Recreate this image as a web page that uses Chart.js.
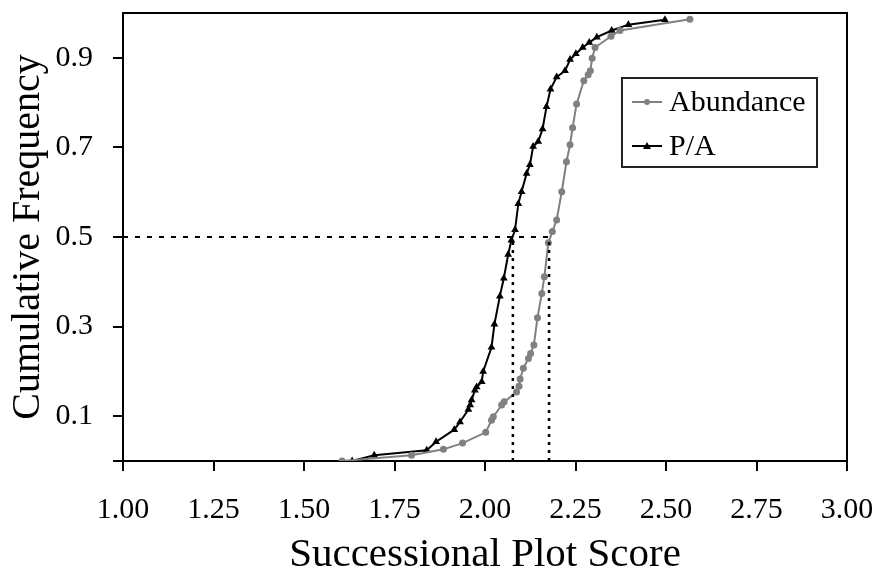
<!DOCTYPE html>
<html>
<head>
<meta charset="utf-8">
<script src="https://cdn.jsdelivr.net/npm/chart.js@4.4.1/dist/chart.umd.min.js"></script>
<style>
html,body{margin:0;padding:0;background:#fff;}
#wrap{width:877px;height:573px;}
</style>
</head>
<body>
<div id="wrap"><canvas id="c" width="877" height="573"></canvas></div>
<script>
// Data
const abundanceX = [1.605,1.797,1.885,1.938,2.002,2.018,2.023,2.046,2.053,2.087,2.094,2.097,2.106,2.120,2.126,2.135,2.145,2.157,2.164,2.175,2.186,2.198,2.212,2.225,2.235,2.242,2.253,2.273,2.285,2.291,2.296,2.304,2.348,2.373,2.566];
const abundanceY = [0,0.013,0.026,0.040,0.064,0.091,0.099,0.125,0.132,0.154,0.167,0.183,0.207,0.229,0.240,0.259,0.320,0.374,0.411,0.487,0.512,0.538,0.601,0.668,0.706,0.744,0.797,0.849,0.862,0.871,0.899,0.923,0.948,0.961,0.986];
const paX = [1.633,1.694,1.839,1.865,1.915,1.931,1.954,1.959,1.963,1.972,1.977,1.991,1.995,2.018,2.026,2.041,2.052,2.064,2.073,2.083,2.092,2.101,2.115,2.124,2.133,2.147,2.159,2.170,2.181,2.198,2.221,2.235,2.251,2.270,2.288,2.309,2.350,2.396,2.497];
const paY = [0,0.013,0.024,0.043,0.070,0.087,0.115,0.125,0.136,0.158,0.165,0.177,0.200,0.254,0.305,0.368,0.408,0.461,0.493,0.516,0.574,0.601,0.642,0.661,0.702,0.713,0.741,0.791,0.830,0.857,0.871,0.896,0.909,0.923,0.934,0.946,0.961,0.974,0.985];
const medianLevel = 0.5;
const paMedian = 2.077;
const abundanceMedian = 2.177;
const xTicks = [1.00,1.25,1.50,1.75,2.00,2.25,2.50,2.75,3.00];
const yTicks = [0,0.1,0.3,0.5,0.7,0.9];
const seriesNames = ['Abundance','P/A'];

const FONT = '"Liberation Serif","Times New Roman",serif';
const toPts = (xs, ys) => xs.map((x, i) => ({x: x, y: ys[i]}));

const framePlugin = {
  id: 'frame',
  afterDatasetsDraw(chart) {
    const {ctx, chartArea: a} = chart;
    ctx.save();
    ctx.strokeStyle = '#000';
    ctx.lineWidth = 2;
    ctx.beginPath();
    ctx.moveTo(a.left, a.top);
    ctx.lineTo(a.right, a.top);
    ctx.lineTo(a.right, a.bottom);
    ctx.stroke();
    ctx.restore();
  }
};

const legendPlugin = {
  id: 'boxLegend',
  afterDraw(chart) {
    const ctx = chart.ctx;
    ctx.save();
    const bx = 622, by = 78, bw = 195, bh = 89;
    ctx.fillStyle = '#fff';
    ctx.fillRect(bx, by, bw, bh);
    ctx.strokeStyle = '#222';
    ctx.lineWidth = 2;
    ctx.strokeRect(bx, by, bw, bh);
    const items = [
      {label: seriesNames[0], color: '#808080', y: by + 24, shape: 'circle'},
      {label: seriesNames[1], color: '#000000', y: by + 68, shape: 'triangle'}
    ];
    ctx.font = '30px ' + FONT;
    ctx.textBaseline = 'middle';
    items.forEach(it => {
      ctx.strokeStyle = it.color;
      ctx.fillStyle = it.color;
      ctx.lineWidth = 2;
      ctx.beginPath();
      ctx.moveTo(bx + 10, it.y);
      ctx.lineTo(bx + 40, it.y);
      ctx.stroke();
      const cx = bx + 25;
      ctx.beginPath();
      if (it.shape === 'circle') {
        ctx.arc(cx, it.y, 3, 0, Math.PI * 2);
      } else {
        ctx.moveTo(cx, it.y - 4);
        ctx.lineTo(cx + 4, it.y + 3);
        ctx.lineTo(cx - 4, it.y + 3);
        ctx.closePath();
      }
      ctx.fill();
      ctx.fillStyle = '#000';
      ctx.fillText(it.label, bx + 47, it.y + 1);
    });
    ctx.restore();
  }
};

function zeroPad(s) {
  s.paddingTop = 0; s.paddingBottom = 0; s.paddingLeft = 0; s.paddingRight = 0;
}

new Chart(document.getElementById('c'), {
  type: 'scatter',
  data: {
    datasets: [
      {
        label: 'h',
        data: [{x: xTicks[0], y: medianLevel}, {x: abundanceMedian, y: medianLevel}],
        showLine: true, borderColor: '#000', borderWidth: 2, borderDash: [5, 7],
        pointRadius: 0
      },
      {
        label: 'v1',
        data: [{x: paMedian, y: 0}, {x: paMedian, y: medianLevel}],
        showLine: true, borderColor: '#000', borderWidth: 2.5, borderDash: [3, 5],
        pointRadius: 0
      },
      {
        label: 'v2',
        data: [{x: abundanceMedian, y: 0}, {x: abundanceMedian, y: medianLevel}],
        showLine: true, borderColor: '#000', borderWidth: 2.5, borderDash: [3, 5],
        pointRadius: 0
      },
      {
        label: seriesNames[0],
        data: toPts(abundanceX, abundanceY),
        showLine: true, borderColor: '#808080', backgroundColor: '#808080',
        borderWidth: 2, pointStyle: 'circle', pointRadius: 3.5,
        pointBorderWidth: 0
      },
      {
        label: seriesNames[1],
        data: toPts(paX, paY),
        showLine: true, borderColor: '#000', backgroundColor: '#000',
        borderWidth: 2, pointStyle: 'triangle', pointRadius: 4.5,
        pointBorderWidth: 0
      }
    ]
  },
  options: {
    responsive: false,
    animation: false,
    layout: {autoPadding: false, padding: {left: 0, right: 30, top: 13, bottom: 0}},
    plugins: {legend: {display: false}, tooltip: {enabled: false}},
    scales: {
      x: {
        type: 'linear', min: 1, max: 3,
        afterBuildTicks: s => { s.ticks = xTicks.map(v => ({value: v})); },
        afterFit: s => { s.height = 112; zeroPad(s); },
        border: {display: true, color: '#000', width: 2},
        grid: {display: true, drawOnChartArea: false, drawTicks: true, tickLength: 10, color: '#000', lineWidth: 2},
        ticks: {
          color: '#000', padding: 21, maxRotation: 0, autoSkip: false,
          font: {family: FONT, size: 30},
          callback: v => Number(v).toFixed(2)
        },
        title: {display: true, text: 'Successional Plot Score', color: '#000',
          font: {family: FONT, size: 41, lineHeight: 0.85}, padding: {top: 0, bottom: 0}}
      },
      y: {
        type: 'linear', min: 0, max: 1,
        afterBuildTicks: s => { s.ticks = yTicks.map(v => ({value: v})); },
        afterFit: s => { s.width = 123; zeroPad(s); },
        border: {display: true, color: '#000', width: 2},
        grid: {display: true, drawOnChartArea: false, drawTicks: true, tickLength: 10, color: '#000', lineWidth: 2},
        ticks: {
          color: '#000', padding: 20, autoSkip: false,
          font: {family: FONT, size: 30},
          callback: v => (v === 0 ? '' : Number(v).toFixed(1))
        },
        title: {display: true, text: 'Cumulative Frequency', color: '#000',
          font: {family: FONT, size: 40, lineHeight: 1.2}, padding: {top: 4, bottom: 0}}
      }
    }
  },
  plugins: [framePlugin, legendPlugin]
});
</script>
</body>
</html>
